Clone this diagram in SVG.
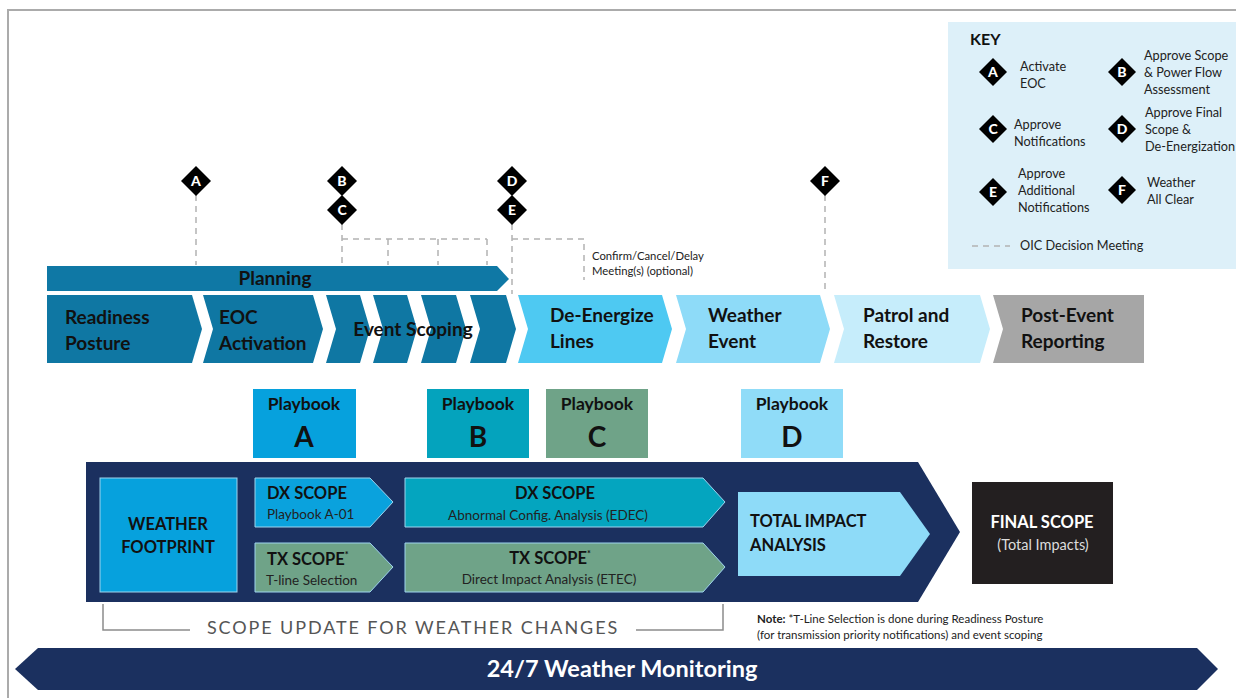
<svg xmlns="http://www.w3.org/2000/svg" width="1236" height="698" viewBox="0 0 1236 698">
<defs>
<style>
text{font-family:Lato,"Open Sans","Liberation Sans",sans-serif;}
.b{font-weight:bold;}
.chev{font-size:19px;font-weight:bold;fill:#111;}
.key{font-size:12.7px;fill:#222;}
.dl{font-size:14px;fill:#fff;font-weight:900;text-anchor:middle;}
.dash{stroke:#b3b3b3;stroke-width:1.5;stroke-dasharray:6 5;fill:none;}
.pbt{font-size:17.5px;font-weight:bold;fill:#111;text-anchor:middle;}
.pbl{font-size:28px;font-weight:bold;fill:#111;text-anchor:middle;}
.st{font-size:16.5px;font-weight:bold;fill:#111;}
.ss{font-size:13.5px;fill:#222;}
</style>
<path id="dm" d="M0,-15 L15,0 L0,15 L-15,0 Z" fill="#000"/>
<path id="dmk" d="M0,-14 L14,0 L0,14 L-14,0 Z" fill="#000"/>
</defs>
<rect width="1236" height="698" fill="#fff"/>
<path d="M8,698 L8,10 L1236,10" fill="none" stroke="#ababab" stroke-width="2"/>

<g id="key">
<rect x="948" y="22" width="288" height="247" fill="#ddf0f9"/>
<text x="970" y="45" class="b" font-size="16" fill="#111">KEY</text>
<use href="#dmk" x="993" y="72"/><text x="993" y="77" class="dl">A</text>
<text class="key" x="1020" y="71">Activate</text><text class="key" x="1020" y="88">EOC</text>
<use href="#dmk" x="1122" y="72"/><text x="1122" y="77" class="dl">B</text>
<text class="key" x="1144" y="60">Approve Scope</text><text class="key" x="1144" y="77">&amp; Power Flow</text><text class="key" x="1144" y="94">Assessment</text>
<use href="#dmk" x="993" y="129"/><text x="993" y="134" class="dl">C</text>
<text class="key" x="1014" y="129">Approve</text><text class="key" x="1014" y="146">Notifications</text>
<use href="#dmk" x="1122" y="129"/><text x="1122" y="134" class="dl">D</text>
<text class="key" x="1145" y="117">Approve Final</text><text class="key" x="1145" y="134">Scope &amp;</text><text class="key" x="1145" y="151">De-Energization</text>
<use href="#dmk" x="993" y="192"/><text x="993" y="197" class="dl">E</text>
<text class="key" x="1018" y="178">Approve</text><text class="key" x="1018" y="195">Additional</text><text class="key" x="1018" y="212">Notifications</text>
<use href="#dmk" x="1122" y="190"/><text x="1122" y="195" class="dl">F</text>
<text class="key" x="1147" y="187">Weather</text><text class="key" x="1147" y="204">All Clear</text>
<line x1="972" y1="246" x2="1010" y2="246" class="dash"/>
<text class="key" x="1020" y="250">OIC Decision Meeting</text>
</g>

<g id="connectors">
<line x1="196" y1="195" x2="196" y2="265" class="dash"/>
<line x1="342" y1="224" x2="342" y2="265" class="dash"/>
<polyline points="342,239 487,239" class="dash"/>
<line x1="388" y1="239" x2="388" y2="265" class="dash"/>
<line x1="438" y1="239" x2="438" y2="265" class="dash"/>
<line x1="487" y1="239" x2="487" y2="265" class="dash"/>
<line x1="512" y1="224" x2="512" y2="294" class="dash"/>
<polyline points="512,239 584,239 584,280" class="dash"/>
<line x1="825" y1="195" x2="825" y2="293" class="dash"/>
</g>

<g id="markers">
<use href="#dm" x="196" y="181"/><text x="196" y="186" class="dl">A</text>
<use href="#dm" x="342" y="181"/><text x="342" y="186" class="dl">B</text>
<use href="#dm" x="342" y="210"/><text x="342" y="215" class="dl">C</text>
<use href="#dm" x="512" y="181"/><text x="512" y="186" class="dl">D</text>
<use href="#dm" x="512" y="210"/><text x="512" y="215" class="dl">E</text>
<use href="#dm" x="825" y="181"/><text x="825" y="186" class="dl">F</text>
</g>

<g id="meeting-note">
<text x="592" y="260" font-size="11.3" fill="#222">Confirm/Cancel/Delay</text>
<text x="592" y="275" font-size="11.3" fill="#222">Meeting(s) (optional)</text>
</g>

<g id="planning">
<path d="M47,266 L497,266 L509,279 L497,291 L47,291 Z" fill="#0f78a5"/>
<text x="275" y="285" class="chev" font-size="18.5" text-anchor="middle">Planning</text>
</g>

<g id="readiness">
<path d="M47,295 L192,295 L202,329 L192,363 L47,363 Z" fill="#0f77a3"/>
<text class="chev" x="65" y="324">Readiness</text><text class="chev" x="65" y="350">Posture</text>
</g>
<g id="eoc">
<path d="M203,295 L313,295 L323,329 L313,363 L203,363 L213,329 Z" fill="#0f77a3"/>
<text class="chev" x="219" y="324">EOC</text><text class="chev" x="219" y="350">Activation</text>
</g>
<g id="event-scoping">
<path d="M326,295 L360,295 L370,329 L360,363 L326,363 L336,329 Z" fill="#0f77a3"/>
<path d="M373,295 L407,295 L417,329 L407,363 L373,363 L383,329 Z" fill="#0f77a3"/>
<path d="M421,295 L456,295 L466,329 L456,363 L421,363 L431,329 Z" fill="#0f77a3"/>
<path d="M470,295 L506,295 L516,329 L506,363 L470,363 L480,329 Z" fill="#0f77a3"/>
<text class="chev" x="413" y="336" text-anchor="middle">Event Scoping</text>
</g>
<g id="de-energize">
<path d="M518,295 L662,295 L672,329 L662,363 L518,363 L528,329 Z" fill="#4ec9f2"/>
<text class="chev" x="550" y="322">De-Energize</text><text class="chev" x="550" y="348">Lines</text>
</g>
<g id="weather-event">
<path d="M676,295 L820,295 L830,329 L820,363 L676,363 L686,329 Z" fill="#8edbf8"/>
<text class="chev" x="708" y="322">Weather</text><text class="chev" x="708" y="348">Event</text>
</g>
<g id="patrol">
<path d="M834,295 L980,295 L990,329 L980,363 L834,363 L844,329 Z" fill="#c6edfb"/>
<text class="chev" x="863" y="322">Patrol and</text><text class="chev" x="863" y="348">Restore</text>
</g>
<g id="post-event">
<path d="M993,295 L1144,295 L1144,363 L993,363 L1003,329 Z" fill="#a6a6a6"/>
<text class="chev" x="1021" y="322">Post-Event</text><text class="chev" x="1021" y="348">Reporting</text>
</g>

<g id="playbook-a"><rect x="253" y="389" width="103" height="69" fill="#06a1dd"/>
<text class="pbt" x="304" y="410">Playbook</text><text class="pbl" x="304" y="447">A</text></g>
<g id="playbook-b"><rect x="427" y="389" width="102" height="69" fill="#04a3bd"/>
<text class="pbt" x="478" y="410">Playbook</text><text class="pbl" x="478" y="447">B</text></g>
<g id="playbook-c"><rect x="546" y="389" width="102" height="69" fill="#6fa388"/>
<text class="pbt" x="597" y="410">Playbook</text><text class="pbl" x="597" y="447">C</text></g>
<g id="playbook-d"><rect x="741" y="389" width="102" height="69" fill="#90dcf8"/>
<text class="pbt" x="792" y="410">Playbook</text><text class="pbl" x="792" y="447">D</text></g>

<g id="scope-process">
<path d="M86,462 L918,462 L960,532 L918,602 L86,602 Z" fill="#1b305f"/>
</g>
<g id="weather-footprint">
<rect x="100" y="478" width="137" height="114" fill="#06a1dd" stroke="#9fd4ee" stroke-width="1"/>
<text class="st" x="168" y="530" text-anchor="middle">WEATHER</text>
<text class="st" x="168" y="553" text-anchor="middle">FOOTPRINT</text>
</g>
<g id="dx-scope-a">
<path d="M255,478 L370,478 L393,502 L370,527 L255,527 Z" fill="#0aa2dd" stroke="#9fd4ee" stroke-width="1"/>
<text class="st" x="267" y="499">DX SCOPE</text><text class="ss" x="267" y="519">Playbook A-01</text>
</g>
<g id="tx-scope-a">
<path d="M255,543 L370,543 L393,567 L370,592 L255,592 Z" fill="#6fa388" stroke="#9fd4ee" stroke-width="1"/>
<text class="st" x="267" y="565">TX SCOPE<tspan font-size="9" dy="-7">*</tspan></text><text class="ss" x="266" y="585">T-line Selection</text>
</g>
<g id="dx-scope-b">
<path d="M405,478 L703,478 L725,502 L703,527 L405,527 Z" fill="#04a5bf" stroke="#9fd4ee" stroke-width="1"/>
<text class="st" x="555" y="499" text-anchor="middle">DX SCOPE</text><text class="ss" x="548" y="520" text-anchor="middle" font-size="13">Abnormal Config. Analysis (EDEC)</text>
</g>
<g id="tx-scope-b">
<path d="M405,543 L703,543 L725,567 L703,592 L405,592 Z" fill="#6fa388" stroke="#9fd4ee" stroke-width="1"/>
<text class="st" x="550" y="564" text-anchor="middle">TX SCOPE<tspan font-size="9" dy="-7">*</tspan></text><text class="ss" x="549" y="584" text-anchor="middle">Direct Impact Analysis (ETEC)</text>
</g>
<g id="total-impact">
<path d="M738,492 L900,492 L930,534 L900,576 L738,576 Z" fill="#8edbf8"/>
<text class="st" x="750" y="527">TOTAL IMPACT</text><text class="st" x="750" y="551">ANALYSIS</text>
</g>
<g id="final-scope">
<rect x="972" y="482" width="141" height="102" fill="#231f20"/>
<text x="1042" y="528" font-size="16.5" font-weight="bold" fill="#fff" text-anchor="middle">FINAL SCOPE</text>
<text x="1043" y="550" font-size="14.5" fill="#ddd" text-anchor="middle">(Total Impacts)</text>
</g>

<g id="scope-update">
<polyline points="103,604 103,630 190,630" fill="none" stroke="#8c8c8c" stroke-width="1.5"/>
<polyline points="636,630 723,630 723,604" fill="none" stroke="#8c8c8c" stroke-width="1.5"/>
<text x="413" y="634" font-size="18" fill="#555" text-anchor="middle" letter-spacing="1.9">SCOPE UPDATE FOR WEATHER CHANGES</text>
</g>

<g id="note">
<text x="757" y="623" font-size="11.5" fill="#222"><tspan font-weight="bold">Note:</tspan> *T-Line Selection is done during Readiness Posture</text>
<text x="757" y="639" font-size="11.5" fill="#222">(for transmission priority notifications) and event scoping</text>
</g>

<g id="monitoring">
<path d="M15,669 L38,648 L1197,648 L1218,669 L1197,690 L38,690 Z" fill="#1b305f"/>
<text x="622" y="677" font-size="23.5" font-weight="bold" fill="#fff" text-anchor="middle">24/7 Weather Monitoring</text>
</g>
</svg>
